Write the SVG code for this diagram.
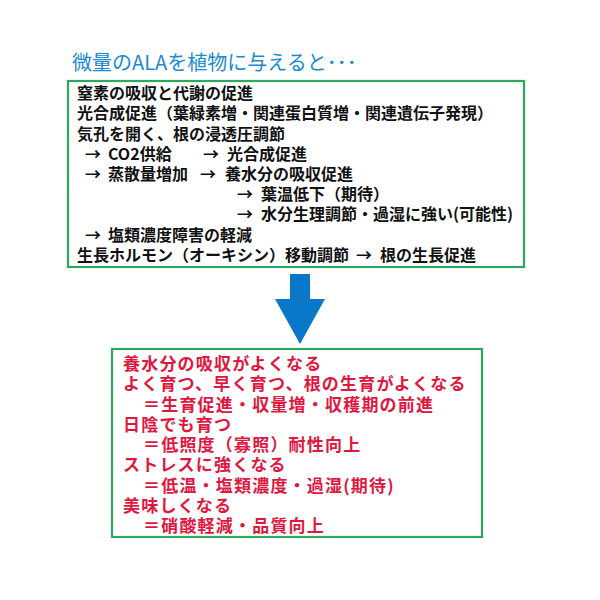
<svg xmlns="http://www.w3.org/2000/svg" width="600" height="600" viewBox="0 0 600 600">
<style>
text{font-family:"Noto Sans CJK JP","Noto Sans CJK SC",sans-serif}
.title{font-size:20px;fill:#1a8ad4}
.box{fill:#ffffff;stroke:#2ea85c;stroke-width:2.2}
.t{font-size:16px;font-weight:bold;fill:#111111}
.r{font-size:17px;font-weight:bold;fill:#e0173f;letter-spacing:1.2px}
.arrow{fill:#0a78c8}
</style>
<rect width="600" height="600" fill="#ffffff"/>
<g id="title">
<text class="title" x="72" y="70">微量のALAを植物に与えると･･･</text>
</g>
<g id="effects">
<rect class="box" x="68" y="81" width="456" height="186"/>
<text class="t" x="77" y="99">窒素の吸収と代謝の促進</text>
<text class="t" x="77" y="119">光合成促進（葉緑素増・関連蛋白質増・関連遺伝子発現）</text>
<text class="t" x="77" y="139.5">気孔を開く、根の浸透圧調節</text>
<text class="t" x="85" y="159.5">→</text>
<text class="t" x="108" y="159.5">CO2供給</text>
<text class="t" x="203" y="159.5">→</text>
<text class="t" x="227" y="159.5">光合成促進</text>
<text class="t" x="85" y="180">→</text>
<text class="t" x="108" y="180">蒸散量増加</text>
<text class="t" x="200" y="180">→</text>
<text class="t" x="225" y="180">養水分の吸収促進</text>
<text class="t" x="237" y="200">→</text>
<text class="t" x="261" y="200">葉温低下（期待）</text>
<text class="t" x="237" y="220">→</text>
<text class="t" x="261" y="220">水分生理調節・過湿に強い(可能性)</text>
<text class="t" x="85" y="240.5">→</text>
<text class="t" x="108" y="240.5">塩類濃度障害の軽減</text>
<text class="t" x="77" y="260.5">生長ホルモン（オーキシン）移動調節</text>
<text class="t" x="356" y="260.5">→</text>
<text class="t" x="380" y="260.5">根の生長促進</text>
</g>
<g id="connectors">
<path class="arrow" d="M290,274 H310 V299 H325 L300,344 L275,299 H290 Z"/>
</g>
<g id="results">
<rect class="box" x="112" y="349" width="370" height="188"/>
<text class="r" x="123" y="369.5">養水分の吸収がよくなる</text>
<text class="r" x="123" y="390">よく育つ、早く育つ、根の生育がよくなる</text>
<text class="r" x="143" y="410.5">＝生育促進・収量増・収穫期の前進</text>
<text class="r" x="123" y="430.5">日陰でも育つ</text>
<text class="r" x="143" y="451">＝低照度（寡照）耐性向上</text>
<text class="r" x="123" y="471">ストレスに強くなる</text>
<text class="r" x="143" y="491.5">＝低温・塩類濃度・過湿(期待)</text>
<text class="r" x="123" y="512">美味しくなる</text>
<text class="r" x="143" y="532">＝硝酸軽減・品質向上</text>
</g>
</svg>
